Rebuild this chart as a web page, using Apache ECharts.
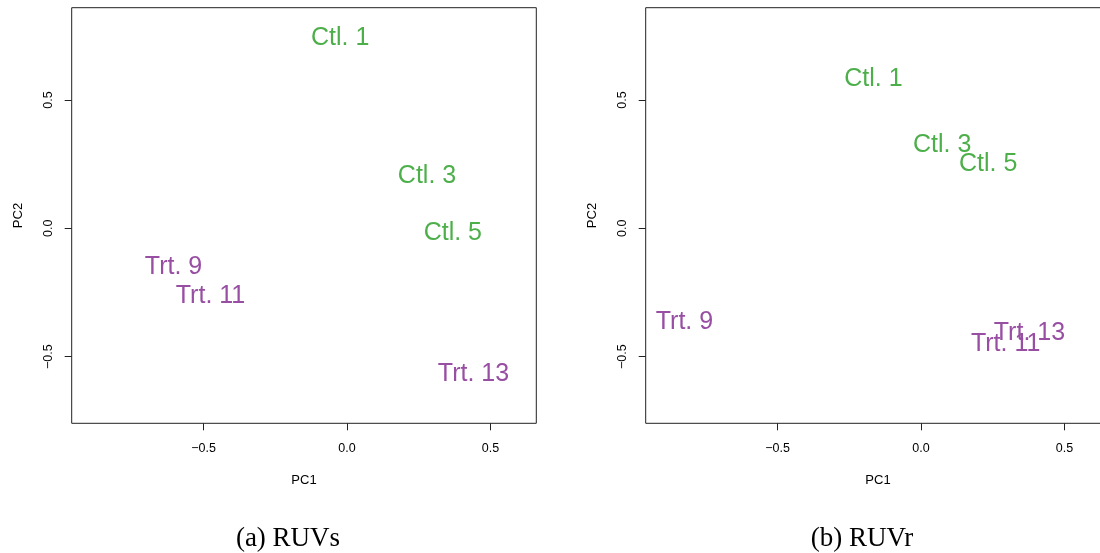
<!DOCTYPE html>
<html>
<head>
<meta charset="utf-8">
<title>PCA of RUVs and RUVr normalized counts</title>
<script src="https://cdn.jsdelivr.net/npm/echarts@6/dist/echarts.min.js"></script>
<style>
  html, body { margin: 0; padding: 0; background: #fff; }
  #chart { width: 1100px; height: 553px; }
</style>
</head>
<body>
<div id="chart"></div>
<script>
// Sample names and their group
const sampleLabels = ['Ctl. 1', 'Ctl. 3', 'Ctl. 5', 'Trt. 9', 'Trt. 11', 'Trt. 13'];
const sampleGroups = ['Ctl', 'Ctl', 'Ctl', 'Trt', 'Trt', 'Trt'];

// First two principal components after RUVs normalization
const ruvsPC1 = [-0.024, 0.279, 0.369, -0.605, -0.476, 0.441];
const ruvsPC2 = [0.749, 0.211, -0.012, -0.145, -0.255, -0.561];

// First two principal components after RUVr normalization
const ruvrPC1 = [-0.166, 0.074, 0.234, -0.825, 0.295, 0.378];
const ruvrPC2 = [0.588, 0.334, 0.259, -0.356, -0.442, -0.400];

// Axis ticks and limits (limits padded 4% like base R plots)
const tickValues = [-0.5, 0, 0.5];
const xLimits = [-0.96, 0.66];
const yLimits = [-0.76, 0.86];

const panelCaptions = ['(a) RUVs', '(b) RUVr'];

const groupColors = { Ctl: '#4DAF4A', Trt: '#984EA3' };

const fmtTick = v => v.toFixed(1).replace('-', '\u2212');

const plotW = 464.6, plotH = 415.6, plotTop = 7.7;
const panelLeft = [71.7, 645.7];
const captionX = [288, 862];

function panelData(pc1, pc2) {
  return sampleLabels.map((name, i) => ({
    name: name,
    value: [pc1[i], pc2[i]],
    label: { color: groupColors[sampleGroups[i]] }
  }));
}

const panels = [[ruvsPC1, ruvsPC2], [ruvrPC1, ruvrPC2]];

const axisFont = { fontFamily: 'Liberation Sans', fontSize: 12.5, color: '#000' };

const option = {
  animation: false,
  backgroundColor: '#fff',
  grid: panelLeft.map(l => ({
    left: l, top: plotTop, width: plotW, height: plotH,
    outerBoundsMode: 'none', containLabel: false,
    show: true, borderColor: '#222', borderWidth: 1, backgroundColor: 'transparent'
  })),
  xAxis: panelLeft.map((_, k) => ({
    type: 'value', gridIndex: k, min: xLimits[0], max: xLimits[1],
    name: 'PC1', nameLocation: 'middle', nameGap: 51,
    nameTextStyle: { fontFamily: 'Liberation Sans', fontSize: 13, color: '#000' },
    axisLine: { show: false, onZero: false },
    splitLine: { show: false },
    axisTick: { show: true, length: 7, customValues: tickValues, lineStyle: { color: '#222' } },
    axisLabel: { margin: 19, customValues: tickValues, formatter: fmtTick, ...axisFont }
  })),
  yAxis: panelLeft.map((_, k) => ({
    type: 'value', gridIndex: k, min: yLimits[0], max: yLimits[1],
    name: 'PC2', nameLocation: 'middle', nameGap: 47,
    nameTextStyle: { fontFamily: 'Liberation Sans', fontSize: 13, color: '#000' },
    axisLine: { show: false, onZero: false },
    splitLine: { show: false },
    axisTick: { show: true, length: 7, customValues: tickValues, lineStyle: { color: '#222' } },
    axisLabel: { margin: 17, rotate: 90, customValues: tickValues, formatter: fmtTick, ...axisFont }
  })),
  series: panels.map((p, k) => ({
    type: 'scatter',
    xAxisIndex: k, yAxisIndex: k,
    symbolSize: 1,
    itemStyle: { color: 'rgba(0,0,0,0)', opacity: 1 },
    label: {
      show: true, position: 'inside', offset: [0, 2],
      formatter: '{b}',
      fontFamily: 'Liberation Sans', fontSize: 25
    },
    data: panelData(p[0], p[1])
  })),
  graphic: panelCaptions.map((t, k) => ({
    type: 'text',
    x: captionX[k], y: 539,
    style: {
      text: t, align: 'center', verticalAlign: 'middle',
      fontFamily: 'Liberation Serif', fontSize: 27, fill: '#000'
    }
  }))
};

const chart = echarts.init(document.getElementById('chart'), null, { renderer: 'canvas' });
chart.setOption(option);
</script>
</body>
</html>
